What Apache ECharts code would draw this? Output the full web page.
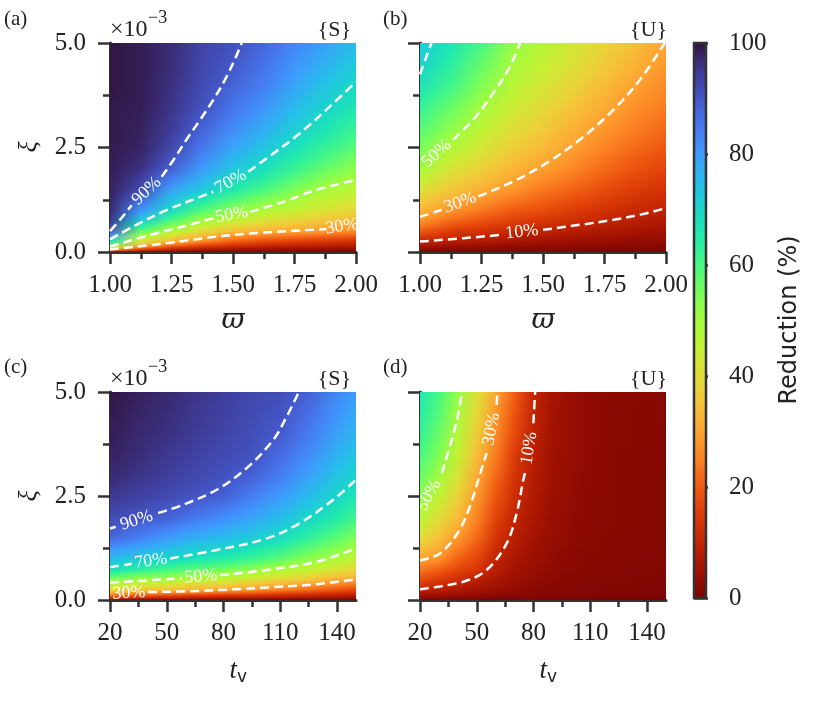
<!DOCTYPE html>
<html>
<head>
<meta charset="utf-8">
<title>Reduction maps</title>
<script src="https://cdn.jsdelivr.net/npm/echarts@6/dist/echarts.min.js"></script>
<style>
html, body { margin: 0; padding: 0; background: #fff; }
#container { width: 821px; height: 701px; }
</style>
</head>
<body>
<div id="container"></div>
<script>
// grid sample positions
var omegaCols = [1.0, 1.125, 1.25, 1.375, 1.5, 1.625, 1.75, 1.875, 2.0];
var tvColsC = [20, 35, 50, 65, 80, 95, 110, 125, 140, 150];
var tvColsD = [20, 30, 40, 50, 60, 70, 80, 90, 105, 125, 150];
var xiRows = [0, 0.1, 0.25, 0.5, 0.75, 1.0, 1.5, 2.0, 2.5, 3.0, 3.5, 4.0, 4.5, 5.0];

// reduction (%) per xi row, one value per column
var redA = [
  [0, 0, 0, 0, 0, 0, 0, 0, 0],
  [44, 23, 14, 10, 8, 7, 6, 5.5, 5],
  [66, 41, 32, 25, 20, 17, 15, 13.5, 12.5],
  [90, 57, 48, 39, 34, 31.5, 30, 28, 26],
  [95, 72, 59, 50, 45.5, 41, 38, 35.5, 33.5],
  [97, 81, 68.5, 59, 52.5, 48.5, 45, 41.5, 38.5],
  [98, 92, 79, 72.5, 65.5, 60, 54.5, 49.5, 46.5],
  [98.5, 96, 88.5, 80, 73, 68, 62, 57, 52.5],
  [99, 97.5, 92.5, 85, 78.5, 73.5, 67.5, 62.5, 58],
  [99, 98, 94.5, 88.5, 82.5, 77.5, 72, 67, 62.5],
  [99, 98.5, 95.5, 91, 85.5, 81, 75.5, 70.5, 66.5],
  [99.5, 98.5, 96, 92, 88, 84, 78.5, 73.5, 69.5],
  [99.5, 98.5, 96.5, 92.5, 90, 86, 81, 76.5, 72.5],
  [99.5, 98.5, 96.5, 93, 91, 87.5, 83, 79, 75]
];
var redB = [
  [0, 0, 0, 0, 0, 0, 0, 0, 0],
  [4, 3, 3, 2, 2, 2, 1.5, 1.5, 1],
  [10, 8, 7, 6, 5, 4, 4, 3, 3],
  [20, 15, 13, 11, 9.5, 8, 7, 6, 5],
  [28, 22, 19, 16, 14, 12, 10, 8.5, 7],
  [33, 28, 24, 20, 18, 15, 13, 11, 9.5],
  [41, 36, 32, 28, 24, 21, 18, 15, 13],
  [50, 42, 38, 33, 29.5, 26, 22, 19, 16.5],
  [55, 48, 42.5, 37.5, 33.5, 29.5, 25.5, 22, 19.5],
  [59, 53, 46.5, 41, 37, 32.5, 28.5, 25, 22],
  [63, 57, 50.5, 44, 40, 35.5, 31.5, 27.5, 24.5],
  [67, 61, 54, 47, 42.5, 38.5, 34, 30, 26.5],
  [70.5, 64, 57, 49.7, 45, 41, 36.5, 32.5, 28.5],
  [72.5, 66.5, 60, 52, 47, 43, 38.5, 34.5, 30]
];
var redC = [
  [0, 0, 0, 0, 0, 0, 0, 0, 0, 0],
  [22, 18, 16, 14, 12, 11, 10, 9, 8, 7],
  [40, 36, 34, 32, 30, 28, 25, 22, 19, 17],
  [54, 51, 50, 47, 45, 42, 39, 36, 32, 30],
  [68, 64, 61, 58, 56, 53, 49, 46, 42, 39],
  [75, 72, 70, 67, 65, 62, 58, 53, 49, 46],
  [87.5, 84, 80, 77, 75, 72, 68.5, 63, 58, 54],
  [92, 90.5, 88.5, 85, 82, 79, 75, 70, 65, 61],
  [95, 93.5, 92, 90.5, 88.5, 84, 80, 75, 70, 66.5],
  [97, 95.5, 94, 92.5, 91, 88.5, 84, 79, 73.5, 70.5],
  [98, 96.5, 95, 93.5, 92, 91, 87, 82, 76.5, 73.5],
  [98.5, 97, 96, 94.5, 93, 91.5, 89.5, 84.5, 79, 76],
  [99, 97.5, 96.5, 95, 93.5, 92, 90.5, 86.5, 81, 78],
  [99.5, 98, 97, 95.5, 94, 92.5, 91.5, 88.5, 82.5, 80]
];
var redD = [
  [0, 0, 0, 0, 0, 0, 0, 0, 0, 0, 0],
  [4, 3.5, 3, 2.5, 2, 1.5, 1.2, 1, 1, 0.8, 0.6],
  [10, 8.5, 7, 5.5, 4, 3, 2, 1.5, 1.2, 1, 0.8],
  [18, 15, 12, 9, 6.5, 4.5, 3, 2.2, 1.5, 1.2, 1],
  [24, 21, 17, 14, 8.5, 5.5, 3.8, 2.7, 1.8, 1.4, 1.1],
  [30.5, 27.5, 21, 17, 10, 6.5, 4.5, 3, 2, 1.5, 1.2],
  [40, 35, 28.5, 22, 13.5, 8.5, 5.5, 3.6, 2.3, 1.7, 1.3],
  [47, 40.5, 34, 25.5, 16.5, 10.2, 6.5, 4, 2.5, 1.8, 1.4],
  [53, 45.5, 38, 28.5, 19.5, 12, 7.3, 4.4, 2.7, 1.9, 1.5],
  [57, 50.5, 42, 31.5, 22, 13.5, 8, 4.7, 2.9, 2, 1.5],
  [60, 54, 45, 34.5, 24.5, 15, 8.7, 5, 3, 2, 1.6],
  [62.5, 56.5, 47.5, 37, 26.5, 17.5, 9.3, 5.3, 3.1, 2.1, 1.6],
  [64.5, 58.5, 50, 39.5, 28.5, 19, 9.8, 5.5, 3.2, 2.1, 1.7],
  [66, 60, 52, 41, 31, 20.5, 10.5, 5.8, 3.2, 2.2, 1.7]
];

// contour lines: dashed pieces on either side of the inline label
var contoursA = [
  [[1.0, 0.5], [1.045, 0.8], [1.088, 1.12]],
  [[1.21, 1.80], [1.26, 2.22], [1.31, 2.68], [1.365, 3.15], [1.42, 3.64], [1.47, 4.15], [1.515, 4.71], [1.535, 5.0]],
  [[1.0, 0.30], [1.095, 0.61], [1.23, 1.0], [1.366, 1.32], [1.42, 1.44]],
  [[1.562, 1.92], [1.637, 2.24], [1.772, 2.84], [1.908, 3.56], [2.0, 4.07]],
  [[1.0, 0.13], [1.163, 0.41], [1.298, 0.61], [1.42, 0.81]],
  [[1.57, 0.96], [1.705, 1.2], [1.84, 1.49], [2.0, 1.72]],
  [[1.0, 0.06], [1.23, 0.21], [1.5, 0.41], [1.88, 0.55]]
];
var contoursB = [
  [[1.0, 4.25], [1.025, 4.66], [1.047, 5.0]],
  [[1.135, 2.69], [1.217, 3.17], [1.298, 3.8], [1.366, 4.44], [1.407, 5.0]],
  [[1.0, 0.84], [1.088, 1.01]],
  [[1.237, 1.33], [1.38, 1.69], [1.515, 2.13], [1.65, 2.69], [1.786, 3.4], [1.894, 4.12], [1.995, 5.0]],
  [[1.0, 0.25], [1.176, 0.33], [1.332, 0.41]],
  [[1.5, 0.53], [1.65, 0.65], [1.786, 0.77], [1.9, 0.9], [2.0, 1.05]]
];
var contoursC = [
  [[20, 1.72], [23, 1.76]],
  [[45.5, 2.09], [58.7, 2.29], [76.4, 2.65], [92.2, 3.17], [106.3, 3.85], [113.4, 4.41], [119.8, 5.0]],
  [[20, 0.79], [31.5, 0.87]],
  [[51.7, 1.0], [76.4, 1.2], [102.8, 1.48], [120.4, 1.85], [138, 2.41], [150, 2.89]],
  [[20, 0.42], [57.9, 0.52]],
  [[78.1, 0.6], [102.8, 0.72], [129.2, 0.92], [150, 1.24]],
  [[40.2, 0.19], [67.6, 0.22], [102.8, 0.3], [129.2, 0.38], [150, 0.5]]
];
var contoursD = [
  [[31.5, 3.05], [36.8, 3.85], [40.3, 4.49], [42.1, 5.0]],
  [[20, 0.95], [30.6, 1.12], [40.3, 1.64], [46.4, 2.25], [50.8, 2.89], [55.2, 3.53]],
  [[60.5, 4.69], [60.9, 4.97], [61, 5.0]],
  [[20, 0.26], [42.9, 0.44], [55.2, 0.72], [65.8, 1.36], [71.1, 2.09], [74.6, 2.89], [75.5, 3.05]],
  [[79.9, 4.25], [80.8, 4.97], [80.9, 5.0]]
];

// inline labels: text, centre, and two points on the line that set its direction
var labelsA = [
  ['90%', [1.149, 1.46], [1.088, 1.12], [1.21, 1.80]],
  ['70%', [1.491, 1.68], [1.42, 1.44], [1.562, 1.92]],
  ['50%', [1.495, 0.89], [1.42, 0.81], [1.57, 0.96]],
  ['30%', [1.943, 0.61], [1.88, 0.55], [2.0, 0.66]]
];
var labelsB = [
  ['50%', [1.068, 2.35], [1.0, 1.98], [1.135, 2.69]],
  ['30%', [1.163, 1.18], [1.088, 1.01], [1.237, 1.33]],
  ['10%', [1.414, 0.48], [1.332, 0.41], [1.5, 0.53]]
];
var labelsC = [
  ['90%', [34, 1.91], [23, 1.76], [45.5, 2.09]],
  ['70%', [41.6, 0.935], [31.5, 0.87], [51.7, 1.0]],
  ['50%', [68, 0.56], [57.9, 0.52], [78.1, 0.6]],
  ['30%', [30, 0.165], [20, 0.14], [40.2, 0.19]]
];
var labelsD = [
  ['50%', [24.8, 2.52], [20, 2.1], [31.5, 3.05]],
  ['30%', [57.85, 4.11], [55.2, 3.53], [60.5, 4.69]],
  ['10%', [77.7, 3.65], [75.5, 3.05], [79.9, 4.25]]
];

var omegaTicks = [1.0, 1.25, 1.5, 1.75, 2.0];
var omegaMinorTicks = [1.125, 1.375, 1.625, 1.875];
var tvTicks = [20, 50, 80, 110, 140];
var tvMinorTicks = [35, 65, 95, 125];
var barTicks = [0, 20, 40, 60, 80, 100];

// colormap: turbo, reversed so 0 % is dark red and 100 % is dark purple
var turboStops = ['#30123b', '#3e3891', '#4457c8', '#4777ef', '#3e9bfe', '#28bbec', '#18d6cb',
  '#22ebaa', '#46f884', '#78fe59', '#a4fc3c', '#c4f133', '#e2dc38', '#f6c23a', '#fea331',
  '#fb8022', '#ef5911', '#dc3a07', '#c22402', '#a01101', '#7a0403'];

function hexRgb(h) {
  return [parseInt(h.substr(1, 2), 16), parseInt(h.substr(3, 2), 16), parseInt(h.substr(5, 2), 16)];
}
var turboRgb = turboStops.map(hexRgb);
function reductionColor(v) {
  var t = 1 - Math.max(0, Math.min(100, v)) / 100;
  var f = t * (turboRgb.length - 1);
  var i = Math.min(Math.floor(f), turboRgb.length - 2);
  var u = f - i;
  var a = turboRgb[i], b = turboRgb[i + 1];
  return 'rgb(' + Math.round(a[0] + (b[0] - a[0]) * u) + ',' + Math.round(a[1] + (b[1] - a[1]) * u) + ',' +
    Math.round(a[2] + (b[2] - a[2]) * u) + ')';
}

var SERIF = '"Liberation Serif", "DejaVu Serif", serif';
var INK = '#222';
var AXIS = '#333';

// one band between two neighbouring xi rows, painted as thin horizontal-gradient slices
function fieldSeries(idx, cols, vals) {
  return {
    type: 'custom', xAxisIndex: idx, yAxisIndex: idx, clip: true, silent: true, z: 1,
    data: xiRows.slice(1).map(function (r) { return [cols[0], r]; }),
    renderItem: function (params, api) {
      var j = params.dataIndex;
      var x0 = api.coord([cols[0], xiRows[j]])[0];
      var x1 = api.coord([cols[cols.length - 1], xiRows[j]])[0];
      var yLo = api.coord([cols[0], xiRows[j]])[1];
      var yHi = api.coord([cols[0], xiRows[j + 1]])[1];
      var offs = cols.map(function (c) { return (api.coord([c, xiRows[j]])[0] - x0) / (x1 - x0); });
      var n = Math.max(1, Math.ceil((yLo - yHi) / 1.5));
      var h = (yLo - yHi) / n;
      var children = [];
      for (var k = 0; k < n; k++) {
        var u = (k + 0.5) / n;
        var stops = cols.map(function (c, i) {
          return { offset: offs[i], color: reductionColor(vals[j][i] * (1 - u) + vals[j + 1][i] * u) };
        });
        children.push({
          type: 'rect',
          shape: { x: x0, y: yLo - (k + 1) * h - 0.4, width: x1 - x0, height: h + 0.8 },
          style: { fill: new echarts.graphic.LinearGradient(0, 0, 1, 0, stops) }
        });
      }
      return { type: 'group', children: children };
    }
  };
}

function contourSeries(idx, segs) {
  return segs.map(function (seg) {
    return {
      type: 'line', xAxisIndex: idx, yAxisIndex: idx, data: seg, showSymbol: false, symbol: 'none',
      smooth: 0.35, silent: true, z: 3, clip: true,
      lineStyle: { color: '#fff', width: 2.5, type: [9, 5] }
    };
  });
}

function labelSeries(idx, labels) {
  return {
    type: 'custom', xAxisIndex: idx, yAxisIndex: idx, clip: true, silent: true, z: 4,
    data: labels.map(function (l) { return l[1]; }),
    renderItem: function (params, api) {
      var l = labels[params.dataIndex];
      var p = api.coord(l[1]), a = api.coord(l[2]), b = api.coord(l[3]);
      return {
        type: 'text', x: p[0], y: p[1], rotation: Math.atan2(a[1] - b[1], b[0] - a[0]),
        style: {
          text: l[0], fill: '#fff', font: '18px ' + SERIF,
          align: 'center', verticalAlign: 'middle', textAlign: 'center', textVerticalAlign: 'middle'
        }
      };
    }
  };
}

function xAxisOf(idx, min, max, ticks, fmt) {
  return {
    type: 'value', gridIndex: idx, min: min, max: max,
    axisLine: { show: true, onZero: false, lineStyle: { color: AXIS, width: 3 } },
    axisTick: { show: true, length: 12, customValues: ticks, lineStyle: { color: AXIS, width: 2.5 } },
    axisLabel: { show: true, customValues: ticks, margin: 21, color: INK, fontSize: 25, fontFamily: SERIF, formatter: fmt },
    splitLine: { show: false }
  };
}
function minorXAxis(idx, min, max, ticks) {
  return {
    type: 'value', gridIndex: idx, min: min, max: max, position: 'bottom',
    axisLine: { show: false, onZero: false },
    axisTick: { show: true, length: 7, customValues: ticks, lineStyle: { color: AXIS, width: 2.5 } },
    axisLabel: { show: false }, splitLine: { show: false }
  };
}
function yAxisOf(idx, withLabels) {
  return {
    type: 'value', gridIndex: idx, min: 0, max: 5, interval: 2.5,
    axisLine: { show: true, onZero: false, lineStyle: { color: AXIS, width: 3 } },
    axisTick: { show: true, length: 12, lineStyle: { color: AXIS, width: 2.5 } },
    minorTick: { show: true, splitNumber: 2, length: 7, lineStyle: { color: AXIS, width: 2.5 } },
    axisLabel: {
      show: withLabels, margin: 24, color: INK, fontSize: 25, fontFamily: SERIF,
      formatter: function (v) { return v.toFixed(1); }
    },
    splitLine: { show: false }, minorSplitLine: { show: false }
  };
}

function txt(text, x, y, font, opt) {
  opt = opt || {};
  var align = opt.align || 'left';
  return {
    type: 'text', x: x, y: y, rotation: opt.rotation || 0, silent: true,
    style: {
      text: text, font: font, fill: INK,
      align: align, verticalAlign: 'middle', textAlign: align, textVerticalAlign: 'middle'
    }
  };
}

var fmt2 = function (v) { return v.toFixed(2); };
var fmt0 = function (v) { return String(v); };

var series = [
  fieldSeries(0, omegaCols, redA),
  fieldSeries(1, omegaCols, redB),
  fieldSeries(2, tvColsC, redC),
  fieldSeries(3, tvColsD, redD)
];
series = series.concat(contourSeries(0, contoursA), contourSeries(1, contoursB),
  contourSeries(2, contoursC), contourSeries(3, contoursD));
series.push(labelSeries(0, labelsA), labelSeries(1, labelsB), labelSeries(2, labelsC), labelSeries(3, labelsD));

// colour bar
series.push({
  type: 'custom', xAxisIndex: 8, yAxisIndex: 4, silent: true, z: 2,
  data: [[0, 0]],
  renderItem: function (params, api) {
    var p0 = api.coord([0, 100]), p1 = api.coord([1, 0]);
    var stops = turboStops.map(function (c, i) { return { offset: i / (turboStops.length - 1), color: c }; });
    return {
      type: 'rect',
      shape: { x: p0[0], y: p0[1], width: p1[0] - p0[0], height: p1[1] - p0[1] },
      style: { fill: new echarts.graphic.LinearGradient(0, 0, 0, 1, stops), stroke: AXIS, lineWidth: 2.5 }
    };
  }
});

var option = {
  animation: false,
  backgroundColor: '#fff',
  grid: [
    { left: 110, top: 43, width: 246, height: 209 },
    { left: 420, top: 43, width: 246, height: 209 },
    { left: 110, top: 392, width: 246, height: 208 },
    { left: 420, top: 392, width: 246, height: 208 },
    { left: 694, top: 43, width: 12, height: 555 }
  ],
  xAxis: [
    xAxisOf(0, 1, 2, omegaTicks, fmt2),
    xAxisOf(1, 1, 2, omegaTicks, fmt2),
    xAxisOf(2, 20, 150, tvTicks, fmt0),
    xAxisOf(3, 20, 150, tvTicks, fmt0),
    minorXAxis(0, 1, 2, omegaMinorTicks),
    minorXAxis(1, 1, 2, omegaMinorTicks),
    minorXAxis(2, 20, 150, tvMinorTicks),
    minorXAxis(3, 20, 150, tvMinorTicks),
    { type: 'value', gridIndex: 4, min: 0, max: 1, show: false }
  ],
  yAxis: [
    yAxisOf(0, true),
    yAxisOf(1, false),
    yAxisOf(2, true),
    yAxisOf(3, false),
    {
      type: 'value', gridIndex: 4, min: 0, max: 100, interval: 20, position: 'right',
      axisLine: { show: false },
      axisTick: { show: true, length: 14, customValues: barTicks, lineStyle: { color: AXIS, width: 2.5 } },
      axisLabel: { show: true, customValues: barTicks, margin: 23, color: INK, fontSize: 25, fontFamily: SERIF },
      splitLine: { show: false }
    }
  ],
  graphic: [
    txt('(a)', 4, 19, '21px ' + SERIF),
    txt('(b)', 383, 19, '21px ' + SERIF),
    txt('(c)', 4, 367, '21px ' + SERIF),
    txt('(d)', 383, 367, '21px ' + SERIF),
    txt('\u00d710', 110, 30, '24px ' + SERIF),
    txt('\u22123', 148, 18, '18px ' + SERIF),
    txt('\u00d710', 110, 379, '24px ' + SERIF),
    txt('\u22123', 148, 367, '18px ' + SERIF),
    txt('{S}', 351, 30, '22px ' + SERIF, { align: 'right' }),
    txt('{U}', 667, 30, '22px ' + SERIF, { align: 'right' }),
    txt('{S}', 351, 379, '22px ' + SERIF, { align: 'right' }),
    txt('{U}', 667, 379, '22px ' + SERIF, { align: 'right' }),
    txt('\u03d6', 233, 321, 'italic 28px "DejaVu Serif", serif', { align: 'center' }),
    txt('\u03d6', 543, 321, 'italic 28px "DejaVu Serif", serif', { align: 'center' }),
    txt('\u03be', 29, 147, 'italic 26px ' + SERIF, { align: 'center', rotation: Math.PI / 2 }),
    txt('\u03be', 29, 496, 'italic 26px ' + SERIF, { align: 'center', rotation: Math.PI / 2 }),
    txt('t', 237, 671, 'italic 27px ' + SERIF, { align: 'right' }),
    txt('v', 237, 678, '17px "DejaVu Sans", sans-serif'),
    txt('t', 547, 671, 'italic 27px ' + SERIF, { align: 'right' }),
    txt('v', 547, 678, '17px "DejaVu Sans", sans-serif'),
    txt('Reduction (%)', 790, 320, '24px "DejaVu Sans", sans-serif', { align: 'center', rotation: Math.PI / 2 })
  ],
  series: series
};

var myChart = echarts.init(document.getElementById('container'));
myChart.setOption(option);
</script>
</body>
</html>
